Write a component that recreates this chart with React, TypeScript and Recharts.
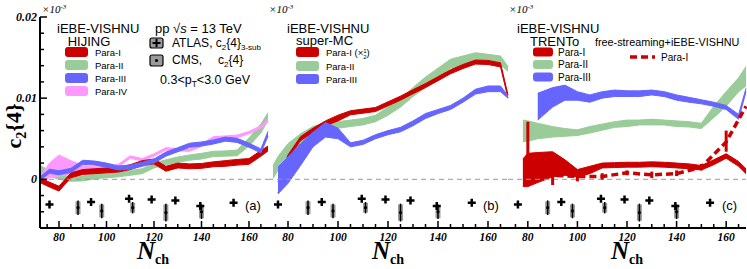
import React from 'react';
import { ComposedChart, Area, Line, Scatter, XAxis, YAxis, ReferenceLine, ErrorBar } from 'recharts';

type Band = [number, number] | null;

// all c2{4} values below are in units of 10^-3
// (a) iEBE-VISHNU + HIJING
const nA = [72, 76, 80, 85, 90, 95, 100, 105, 110, 115, 120, 125, 130, 135, 140, 145, 150, 155, 160, 165, 168];
const aPara1: Band[] = [[-0.4, 0.2], [-0.95, -0.35], [-1.45, -0.85], [0.2, 0.8], [0.6, 1.2], [0.7, 1.3], [0.8, 1.4], [0.9, 1.5], [1.2, 1.8], [1.7, 2.3], [1.9, 2.5], [1.0, 1.6], [1.4, 2.0], [1.3, 1.9], [1.35, 1.95], [1.55, 2.15], [1.6, 2.3], [1.75, 2.45], [1.85, 2.55], [2.85, 3.55], [3.5, 4.1]];
const aPara2: Band[] = [[0.7, 1.7], [0.4, 1.1], [0.0, 0.6], [-0.25, 0.35], [-0.2, 0.4], [0.05, 0.65], [0.2, 0.8], [0.3, 0.9], [0.5, 1.1], [0.7, 1.3], [1.4, 2.0], [1.8, 2.4], [2.1, 2.75], [2.35, 3.0], [2.5, 3.2], [2.8, 3.45], [2.85, 3.5], [2.9, 3.6], [4.1, 5.1], [5.7, 6.8], [7.3, 8.2]];
const aPara3: Band[] = [[-0.1, 0.3], [0.75, 1.25], [0.55, 1.05], [0.85, 1.35], [1.85, 2.35], [1.75, 2.25], [1.5, 2.0], [1.15, 1.65], [1.25, 1.75], [1.6, 2.1], [2.0, 2.5], [2.85, 3.35], [3.4, 3.9], [3.95, 4.45], [4.1, 4.6], [4.35, 4.85], [4.7, 5.2], [4.55, 5.05], [3.95, 4.45], [3.25, 3.75], [5.3, 5.9]];
const aPara4: Band[] = [[-0.3, 0.3], [0.2, 2.0], [0.4, 3.0], [0.7, 2.3], [1.0, 1.7], [1.25, 1.55], [1.2, 1.5], [1.55, 1.85], [2.6, 2.9], [2.25, 2.55], [2.85, 3.15], [3.6, 3.9], [3.5, 3.8], [3.45, 3.75], [4.05, 4.35], [4.95, 5.25], [5.05, 5.35], [5.15, 5.45], [5.6, 5.9], [6.3, 6.6], [7.05, 7.4]];

// (b) iEBE-VISHNU + super-MC
const nB = [74, 76, 80, 85, 90, 95, 100, 105, 110, 115, 120, 125, 130, 135, 140, 145, 150, 155, 160, 165, 168];
const bPara1: Band[] = [null, [-1.7, -0.3], [2.5, 3.0], [4.75, 5.25], [5.8, 6.3], [6.6, 7.2], [7.2, 7.9], [7.95, 8.45], [8.15, 8.65], [8.35, 8.85], [9.05, 9.55], [9.75, 10.25], [10.55, 11.05], [11.3, 11.8], [12.15, 12.65], [13.0, 13.5], [13.65, 14.15], [14.2, 14.7], [14.15, 14.65], [13.85, 14.35], [10.0, 10.4]];
const bPara2: Band[] = [[0.1, 1.7], [1.1, 2.8], [3.0, 4.4], [4.6, 5.6], [5.4, 6.5], [6.0, 7.0], [6.3, 7.1], [6.5, 7.3], [6.7, 7.5], [7.1, 7.9], [7.9, 8.9], [8.9, 9.9], [10.2, 11.3], [11.3, 12.6], [12.6, 13.7], [13.7, 14.8], [14.1, 15.2], [14.5, 15.6], [14.4, 15.4], [14.1, 15.2], [13.3, 13.9]];
const bPara3: Band[] = [null, [-1.8, 1.5], [-0.5, 2.75], [1.7, 4.4], [4.0, 5.8], [5.2, 7.0], [5.0, 6.3], [4.0, 4.5], [4.3, 4.8], [5.0, 5.5], [5.5, 6.0], [5.85, 6.4], [6.6, 7.2], [7.5, 8.1], [8.1, 8.6], [8.6, 9.1], [9.5, 10.0], [10.5, 11.1], [10.8, 11.5], [10.8, 11.5], [10.0, 10.3]];

// (c) iEBE-VISHNU + TRENTo
const nC = [78, 80, 84, 90, 95, 100, 105, 110, 115, 120, 125, 130, 135, 140, 145, 150, 155, 160, 165, 168];
const cPara1: Band[] = [[-0.9, 2.5], [-0.9, 3.2], [-0.4, 3.3], [0.3, 3.4], [0.5, 2.4], [0.3, 1.2], [0.7, 1.6], [1.4, 2.0], [1.45, 2.05], [1.5, 2.1], [1.5, 2.1], [1.55, 2.15], [1.5, 2.1], [1.4, 2.0], [1.3, 1.9], [1.15, 1.7], [1.8, 2.4], [2.6, 3.15], [1.6, 2.2], [0.7, 1.3]];
const cPara2: Band[] = [[4.6, 7.3], [4.7, 7.2], [5.0, 6.9], [5.2, 6.5], [5.3, 6.25], [5.4, 6.1], [5.7, 6.5], [6.05, 6.8], [6.4, 7.1], [6.5, 7.3], [6.7, 7.3], [6.7, 7.4], [6.7, 7.3], [6.5, 7.2], [6.45, 7.1], [6.25, 6.9], [7.6, 9.0], [9.0, 10.8], [10.8, 12.5], [11.5, 13.9]];
const cPara3: Band[] = [null, null, [7.3, 10.6], [8.9, 11.3], [9.75, 11.6], [9.75, 10.8], [9.5, 10.4], [10.0, 10.8], [10.2, 11.0], [10.2, 10.9], [10.2, 10.9], [10.4, 11.0], [10.2, 10.8], [9.75, 10.4], [9.5, 10.1], [9.3, 9.8], [9.0, 9.5], [8.6, 9.1], [7.4, 8.0], [10.8, 11.2]];

// free-streaming + iEBE-VISHNU, Para-I
const fsN = [80, 90, 100, 110, 120, 130, 140, 150, 160, 168];
const fsV = [2.4, 0.5, 0.35, 0.35, 0.8, 0.55, 0.7, 1.5, 4.6, 9.0];
const fsErr: [number, number][] = [[0.4, 4.7], [1.2, 1.0], [0.6, 0.7], [0.4, 0.4], [0.3, 0.3], [0.4, 0.4], [0.3, 0.4], [0.4, 0.4], [1.2, 1.4], [0, 0]];

// data points
const atlasN = [76, 93.5, 109.5, 119, 129, 139.5, 153.5];
const atlasV = [-3.1, -2.8, -2.4, -2.5, -2.6, -3.3, -2.9];
const cmsN = [88, 98, 111, 125, 140];
const cmsV = [-3.5, -3.9, -3.5, -4.1, -4.0];
const cmsSys = [0.8, 0.8, 0.6, 1.0, 0.8];
const cmsStat = [0.9, 0.9, 0.7, 1.1, 0.9];

const xTicks = [75, 80, 85, 90, 95, 100, 105, 110, 115, 120, 125, 130, 135, 140, 145, 150, 155, 160, 165];
const yTicks = [-0.006, -0.004, -0.002, 0, 0.002, 0.004, 0.006, 0.008, 0.01, 0.012, 0.014, 0.016, 0.018, 0.02];

const RED = '#cc0000';
const GREEN = '#99cc99';
const BLUE = '#6666ff';
const PINK = '#ff99ff';
const SERIF = '"Liberation Serif", "Times New Roman", serif';
const SANS = '"Liberation Sans", Arial, Helvetica, sans-serif';

const k = 1e-3;
const band = (b: Band) => (b ? [b[0] * k, b[1] * k] : null);

const rowsA = nA.map((n, i) => ({ n, p1: band(aPara1[i]), p2: band(aPara2[i]), p3: band(aPara3[i]), p4: band(aPara4[i]) }));
const rowsB = nB.map((n, i) => ({ n, p1: band(bPara1[i]), p2: band(bPara2[i]), p3: band(bPara3[i]) }));
const rowsC = nC.map((n, i) => ({ n, p1: band(cPara1[i]), p2: band(cPara2[i]), p3: band(cPara3[i]) }));
const fsRows = fsN.map((n, i) => ({ n, v: fsV[i] * k, err: [fsErr[i][0] * k, fsErr[i][1] * k] }));
const atlasRows = atlasN.map((n, i) => ({ n, v: atlasV[i] * k }));
const cmsRows = cmsN.map((n, i) => ({ n, v: cmsV[i] * k, sys: cmsSys[i] * k, stat: cmsStat[i] * k }));

const AXIS = { stroke: '#000', strokeWidth: 2 };
const isMajorY = (v: number) => Math.round(v * 1000) % 10 === 0;

const LeftTick = (props: any) => {
  const { x, y, payload, showLabel } = props;
  const v = payload.value;
  const major = isMajorY(v);
  return (
    <g>
      <line x1={x} x2={x + (major ? 7 : 4)} y1={y} y2={y} stroke="#000" strokeWidth={1.5} />
      {showLabel && major && (
        <text x={x - 3} y={y + 4} textAnchor="end" fontFamily={SERIF} fontWeight="bold" fontStyle="italic" fontSize={12} fill="#000">
          {v === 0 ? '0' : v.toFixed(2)}
        </text>
      )}
    </g>
  );
};

const RightTick = (props: any) => {
  const { x, y, payload } = props;
  const major = isMajorY(payload.value);
  return <line x1={x} x2={x - (major ? 7 : 4)} y1={y} y2={y} stroke="#000" strokeWidth={1.5} />;
};

const BottomTick = (props: any) => {
  const { x, y, payload } = props;
  const major = payload.value % 20 === 0;
  return (
    <g>
      <line x1={x} x2={x} y1={y} y2={y - (major ? 7 : 4)} stroke="#000" strokeWidth={1.5} />
      {major && (
        <text x={x} y={y + 13} textAnchor="middle" fontFamily={SERIF} fontWeight="bold" fontStyle="italic" fontSize={11.5} fill="#000">
          {payload.value}
        </text>
      )}
    </g>
  );
};

const TopTick = (props: any) => {
  const { x, y, payload } = props;
  const major = payload.value % 20 === 0;
  return <line x1={x} x2={x} y1={y} y2={y + (major ? 7 : 4)} stroke="#000" strokeWidth={1.5} />;
};

const PlusShape = (props: any) => {
  const { cx, cy } = props;
  return <path d={`M${cx - 4},${cy}H${cx + 4}M${cx},${cy - 4}V${cy + 4}`} stroke="#000" strokeWidth={2.5} fill="none" />;
};

const CmsDot = (props: any) => <circle cx={props.cx} cy={props.cy} r={1.6} fill="#000" />;

const bandArea = (key: string, color: string) => (
  <Area
    key={key}
    dataKey={key}
    type="linear"
    stroke={color}
    strokeWidth={1}
    fill={color}
    fillOpacity={1}
    dot={false}
    activeDot={false}
    isAnimationActive={false}
  />
);

const expSeries = () => [
  <Scatter key="cms" data={cmsRows} dataKey="v" shape={CmsDot} isAnimationActive={false}>
    <ErrorBar dataKey="sys" direction="y" width={0} stroke="#9a9a9a" strokeWidth={5} />
    <ErrorBar dataKey="stat" direction="y" width={0} stroke="#000" strokeWidth={1.5} />
  </Scatter>,
  <Scatter key="atlas" data={atlasRows} dataKey="v" shape={PlusShape} isAnimationActive={false} />,
];

interface PanelProps {
  left: number;
  width: number;
  marginLeft: number;
  yAxisWidth: number;
  showYLabels: boolean;
  data: any[];
  children: React.ReactNode;
}

function Panel({ left, width, marginLeft, yAxisWidth, showYLabels, data, children }: PanelProps) {
  return (
    <div style={{ position: 'absolute', left, top: 0 }}>
      <ComposedChart width={width} height={269} data={data} margin={{ top: 17, right: 10, bottom: 11, left: marginLeft }}>
        <XAxis dataKey="n" type="number" domain={[72, 168]} ticks={xTicks} interval={0} height={30}
          tickSize={0} tickMargin={0} tickLine={false} axisLine={AXIS} tick={BottomTick} />
        <XAxis xAxisId="top" orientation="top" type="number" domain={[72, 168]} ticks={xTicks} interval={0} height={0}
          tickSize={0} tickMargin={0} tickLine={false} axisLine={AXIS} tick={TopTick} />
        <YAxis type="number" domain={[-0.006, 0.02]} ticks={yTicks} interval={0} width={yAxisWidth}
          tickSize={0} tickMargin={0} tickLine={false} axisLine={AXIS}
          tick={(p: any) => <LeftTick {...p} showLabel={showYLabels} />} />
        <YAxis yAxisId="right" orientation="right" type="number" domain={[-0.006, 0.02]} ticks={yTicks} interval={0} width={0}
          tickSize={0} tickMargin={0} tickLine={false} axisLine={AXIS} tick={RightTick} />
        <ReferenceLine y={0} stroke="#999" strokeDasharray="5 4" strokeWidth={1} />
        {children}
      </ComposedChart>
    </div>
  );
}

const Swatch = ({ x, y, color, w = 23, h = 10 }: { x: number; y: number; color: string; w?: number; h?: number }) => (
  <rect x={x} y={y - h / 2} width={w} height={h} rx={3} fill={color} />
);

const T = (p: any) => <text fontFamily={SANS} fill="#000" {...p} />;

function Overlay() {
  return (
    <svg width={747} height={269} style={{ position: 'absolute', left: 0, top: 0, pointerEvents: 'none' }}>
      {/* y title */}
      <text transform="translate(21,126) rotate(-90)" textAnchor="middle" fontFamily={SERIF} fontWeight="bold" fontSize={22} fill="#000">
        c<tspan dy={5} fontSize={14}>2</tspan><tspan dy={-5}>{'{4}'}</tspan>
      </text>
      {/* x titles */}
      {[153, 388, 627].map((cx) => (
        <text key={cx} x={cx} y={259} textAnchor="middle" fontFamily={SERIF} fontWeight="bold" fill="#000">
          <tspan fontStyle="italic" fontSize={25}>N</tspan><tspan fontSize={14} dy={5}>ch</tspan>
        </text>
      ))}
      {[42, 269, 509].map((x) => (
        <text key={x} x={x} y={13} fontFamily={SERIF} fontStyle="italic" fontSize={11} fill="#000">
          ×10<tspan dy={-4} fontSize={7}>-3</tspan>
        </text>
      ))}

      {/* panel a */}
      <T x={57} y={33} fontSize={13}>iEBE-VISHNU</T>
      <T x={89} y={46} fontSize={13} textAnchor="middle">HIJING</T>
      <Swatch x={65} y={52} color={RED} />
      <Swatch x={65} y={65} color={GREEN} />
      <Swatch x={65} y={78} color={BLUE} />
      <Swatch x={65} y={91} color={PINK} />
      <T x={95} y={55.5} fontSize={9.5}>Para-I</T>
      <T x={95} y={68.5} fontSize={9.5}>Para-II</T>
      <T x={95} y={81.5} fontSize={9.5}>Para-III</T>
      <T x={95} y={94.5} fontSize={9.5}>Para-IV</T>
      <T x={155} y={33} fontSize={13}>pp √<tspan fontStyle="italic">s</tspan> = 13 TeV</T>
      <rect x={150} y={38} width={13} height={10} rx={2} fill="#9a9a9a" stroke="#000" strokeWidth={1.2} />
      <path d="M152.5,43H160.5M156.5,39V47" stroke="#000" strokeWidth={2} />
      <T x={172} y={47} fontSize={12}>
        ATLAS, c<tspan dy={3} fontSize={8}>2</tspan><tspan dy={-3}>{'{4}'}</tspan><tspan dy={3} fontSize={8}>3-sub</tspan>
      </T>
      <rect x={150} y={55} width={13} height={11} rx={2} fill="#9a9a9a" stroke="#000" strokeWidth={1.2} />
      <circle cx={156.5} cy={60.5} r={1.6} fill="#000" />
      <T x={172} y={64} fontSize={12}>CMS,</T>
      <T x={218} y={64} fontSize={12}>
        c<tspan dy={3} fontSize={8}>2</tspan><tspan dy={-3}>{'{4}'}</tspan>
      </T>
      <T x={160} y={84} fontSize={12.5}>
        0.3&lt;p<tspan dy={3} fontSize={8.5}>T</tspan><tspan dy={-3}>&lt;3.0 GeV</tspan>
      </T>
      <T x={245} y={210} fontSize={13}>(a)</T>

      {/* panel b */}
      <T x={287} y={33} fontSize={13}>iEBE-VISHNU</T>
      <T x={296} y={45} fontSize={13}>super-MC</T>
      <Swatch x={296} y={52} color={RED} />
      <Swatch x={296} y={66} color={GREEN} />
      <Swatch x={296} y={79} color={BLUE} />
      <T x={326} y={55.5} fontSize={9.5}>
        Para-I (×<tspan fontSize={6} dy={-3}>1</tspan><tspan fontSize={6} dx={-3.3} dy={6}>2</tspan><tspan dy={-3}>)</tspan>
      </T>
      <T x={326} y={69.5} fontSize={9.5}>Para-II</T>
      <T x={326} y={82.5} fontSize={9.5}>Para-III</T>
      <T x={483} y={210} fontSize={13}>(b)</T>

      {/* panel c */}
      <T x={517} y={33} fontSize={13}>iEBE-VISHNU</T>
      <T x={530} y={46} fontSize={13}>TRENTo</T>
      <Swatch x={533} y={52} color={RED} w={20} h={9} />
      <Swatch x={533} y={64.5} color={GREEN} w={20} h={9} />
      <Swatch x={533} y={77} color={BLUE} w={20} h={9} />
      <T x={558} y={55.5} fontSize={10}>Para-I</T>
      <T x={558} y={68} fontSize={10}>Para-II</T>
      <T x={558} y={80.5} fontSize={10}>Para-III</T>
      <T x={595} y={46} fontSize={10.8}>free-streaming+iEBE-VISHNU</T>
      <line x1={630} x2={655} y1={57} y2={57} stroke={RED} strokeWidth={3.5} strokeDasharray="7 4" />
      <T x={661} y={61} fontSize={10}>Para-I</T>
      <T x={722} y={210} fontSize={13}>(c)</T>
    </svg>
  );
}

export default function App() {
  return (
    <div style={{ position: 'absolute', left: 0, top: 0, width: 747, height: 269, overflow: 'hidden', background: '#fff' }}>
      <Panel left={0} width={278} marginLeft={0} yAxisWidth={40} showYLabels data={rowsA}>
        {bandArea('p2', GREEN)}
        {bandArea('p4', PINK)}
        {bandArea('p1', RED)}
        {bandArea('p3', BLUE)}
        {expSeries()}
      </Panel>
      <Panel left={258} width={260} marginLeft={10} yAxisWidth={0} showYLabels={false} data={rowsB}>
        {bandArea('p2', GREEN)}
        {bandArea('p1', RED)}
        {bandArea('p3', BLUE)}
        {expSeries()}
      </Panel>
      <Panel left={498} width={258} marginLeft={10} yAxisWidth={0} showYLabels={false} data={rowsC}>
        {bandArea('p2', GREEN)}
        {bandArea('p3', BLUE)}
        {bandArea('p1', RED)}
        <Line data={fsRows} dataKey="v" type="linear" stroke={RED} strokeWidth={3.5} strokeDasharray="7 4"
          dot={false} activeDot={false} isAnimationActive={false}>
          <ErrorBar dataKey="err" direction="y" width={0} stroke={RED} strokeWidth={3} />
        </Line>
        {expSeries()}
      </Panel>
      <Overlay />
    </div>
  );
}
